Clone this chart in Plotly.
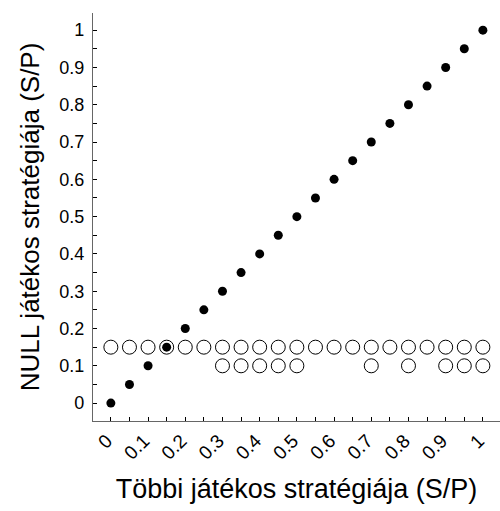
import plotly.graph_objects as go

# Data
diag_x = [0, 0.05, 0.1, 0.15, 0.2, 0.25, 0.3, 0.35, 0.4, 0.45, 0.5,
          0.55, 0.6, 0.65, 0.7, 0.75, 0.8, 0.85, 0.9, 0.95, 1.0]
diag_y = [0, 0.05, 0.1, 0.15, 0.2, 0.25, 0.3, 0.35, 0.4, 0.45, 0.5,
          0.55, 0.6, 0.65, 0.7, 0.75, 0.8, 0.85, 0.9, 0.95, 1.0]
open_hi_x = [0, 0.05, 0.1, 0.15, 0.2, 0.25, 0.3, 0.35, 0.4, 0.45, 0.5,
             0.55, 0.6, 0.65, 0.7, 0.75, 0.8, 0.85, 0.9, 0.95, 1.0]
open_hi_y = [0.15] * len(open_hi_x)
open_lo_x = [0.3, 0.35, 0.4, 0.45, 0.5, 0.7, 0.8, 0.9, 0.95, 1.0]
open_lo_y = [0.1] * len(open_lo_x)

tick_vals = [0, 0.1, 0.2, 0.3, 0.4, 0.5, 0.6, 0.7, 0.8, 0.9, 1]
tick_text = ["0", "0.1", "0.2", "0.3", "0.4", "0.5", "0.6", "0.7", "0.8", "0.9", "1"]

FONT = "Arial, Liberation Sans, sans-serif"

fig = go.Figure()
fig.add_trace(go.Scatter(
    x=open_hi_x + open_lo_x, y=open_hi_y + open_lo_y, mode="markers",
    marker=dict(symbol="circle-open", size=14, color="black", line=dict(width=1)),
    showlegend=False, hoverinfo="skip"))
fig.add_trace(go.Scatter(
    x=diag_x, y=diag_y, mode="markers",
    marker=dict(symbol="circle", size=9, color="black"),
    showlegend=False, hoverinfo="skip"))

axis_common = dict(
    showgrid=False, zeroline=False, showline=True, linecolor="#666666", linewidth=1.3,
    ticks="inside", ticklen=4, tickcolor="black", tickwidth=1,
    tickvals=tick_vals, ticktext=tick_text,
    minor=dict(ticks="inside", ticklen=4, tickcolor="black", dtick=0.05, tick0=0, showgrid=False),
    mirror=False,
)

fig.update_xaxes(**axis_common, range=[-0.048, 1.046], tickangle=-45,
                 tickfont=dict(family=FONT, size=19, color="black"),
                 ticklabelshift=-4,
                 title=dict(text="Többi játékos stratégiája (S/P)",
                            font=dict(family=FONT, size=27, color="black"), standoff=16))
fig.update_yaxes(**axis_common, range=[-0.048, 1.046],
                 tickfont=dict(family=FONT, size=18, color="black"),
                 ticklabelstandoff=4,
                 title=dict(text="NULL játékos stratégiája (S/P)",
                            font=dict(family=FONT, size=26, color="black"), standoff=12))

fig.update_layout(
    width=500, height=511,
    margin=dict(l=93, r=0, t=13, b=90),
    paper_bgcolor="white", plot_bgcolor="white",
    font=dict(family=FONT, color="black"),
)

fig.write_html("out.html")
